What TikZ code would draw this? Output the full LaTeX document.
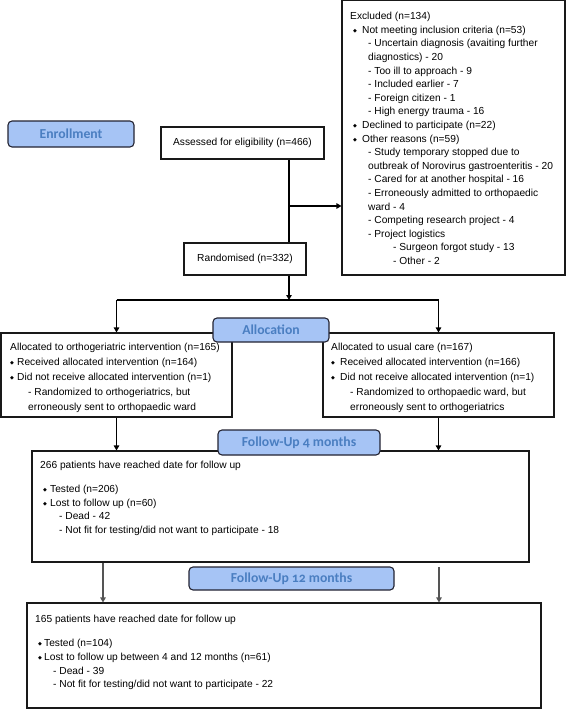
\documentclass[tikz,border=0pt]{standalone}
\usepackage{fontspec}
\setmainfont{Liberation Sans}
\newfontfamily\labfont[Numbers=OldStyle]{Carlito}
\newfontfamily\symfont{DejaVu Sans}
\usetikzlibrary{arrows.meta}
\definecolor{labfill}{RGB}{166,196,245}
\definecolor{labtext}{RGB}{74,126,193}
\definecolor{labdraw}{RGB}{35,35,50}
\definecolor{boxdraw}{RGB}{25,25,25}
\definecolor{garrow}{RGB}{85,85,85}
\newcommand\bulglyph{\raisebox{0.8pt}{\fontsize{5}{5}\symfont ◆}}
\newcommand\bul[2]{\makebox[#2pt][l]{\hspace*{#1pt}\bulglyph}}
\begin{document}
\begin{tikzpicture}[x=1pt,y=-1pt,
  labbox/.style={draw=labdraw, line width=1.1pt, fill=labfill, rounded corners=4pt,
    font=\labfont\bfseries\fontsize{13.7}{14}\selectfont, text=labtext, inner sep=0pt},
  flowbox/.style={draw=boxdraw, line width=1.1pt, fill=white, inner sep=0pt},
  txt/.style={font=\fontsize{10.2}{13.6}\selectfont, align=left, inner sep=0pt, anchor=west},
  arr/.style={line width=1.1pt, draw=black, -{Triangle[width=5.5pt,length=5pt]}},
  garr/.style={line width=1.1pt, draw=garrow, -{Triangle[width=5.5pt,length=5pt]}},
  conn/.style={line width=1.1pt, draw=black}]
\useasboundingbox (0,0) rectangle (567,709);

% spine coordinates
\coordinate (spine) at (289,0);
\coordinate (br) at (289,206);
\coordinate (split) at (289,300);
\coordinate (lx) at (103,0);
\coordinate (rtop) at (439,567);

% boxes
\node[flowbox, minimum width=163pt, minimum height=32pt, font=\fontsize{10.2}{13.6}\selectfont] (assess) at (242.5,143) {Assessed for eligibility (n=466)};
\node[flowbox, minimum width=223pt, minimum height=275pt] (excl) at (453.5,137.5) {};
\node[txt] (exclt) at (350,138.5) {Excluded (n=134)\\
\bul{3}{12}Not meeting inclusion criteria (n=53)\\
\hspace*{18pt}- Uncertain diagnosis (avaiting further\\
\hspace*{18pt}diagnostics) - 20\\
\hspace*{18pt}- Too ill to approach - 9\\
\hspace*{18pt}- Included earlier - 7\\
\hspace*{18pt}- Foreign citizen - 1\\
\hspace*{18pt}- High energy trauma - 16\\
\bul{3}{12}Declined to participate (n=22)\\
\bul{3}{12}Other reasons (n=59)\\
\hspace*{18pt}- Study temporary stopped due to\\
\hspace*{18pt}outbreak of Norovirus gastroenteritis - 20\\
\hspace*{18pt}- Cared for at another hospital - 16\\
\hspace*{18pt}- Erroneously admitted to orthopaedic\\
\hspace*{18pt}ward - 4\\
\hspace*{18pt}- Competing research project - 4\\
\hspace*{18pt}- Project logistics\\
\hspace*{43pt}- Surgeon forgot study - 13\\
\hspace*{43pt}- Other - 2};

\node[flowbox, minimum width=122pt, minimum height=32pt, font=\fontsize{10.2}{13.6}\selectfont] (rand) at (245,259) {Randomised (n=332)};

\node[flowbox, minimum width=231pt, minimum height=84pt] (allocL) at (116.5,375) {};
\node[txt, font=\fontsize{10.2}{15}\selectfont] (allocLt) at (10,378) {Allocated to orthogeriatric intervention (n=165)\\
\bul{0}{7}Received allocated intervention (n=164)\\
\bul{0}{7}Did not receive allocated intervention (n=1)\\
\hspace*{18pt}- Randomized to orthogeriatrics, but\\
\hspace*{18pt}erroneously sent to orthopaedic ward};

\node[flowbox, minimum width=231pt, minimum height=84pt] (allocR) at (438.5,375) {};
\node[txt, font=\fontsize{10.2}{15}\selectfont] (allocRt) at (331,378) {Allocated to usual care (n=167)\\
\bul{0}{9}Received allocated intervention (n=166)\\
\bul{0}{9}Did not receive allocated intervention (n=1)\\
\hspace*{19pt}- Randomized to orthopaedic ward, but\\
\hspace*{19pt}erroneously sent to orthogeriatrics};

\node[flowbox, minimum width=497pt, minimum height=111pt] (fu4box) at (280.5,506.5) {};
\node[txt, anchor=north west, font=\fontsize{10.2}{13.7}\selectfont] (fu4t) at (40,461) {266 patients have reached date for follow up\\[10.3pt]
\bul{3}{10}Tested (n=206)\\
\bul{3}{10}Lost to follow up (n=60)\\
\hspace*{19pt}- Dead - 42\\
\hspace*{19pt}- Not fit for testing/did not want to participate - 18};

\node[flowbox, minimum width=514pt, minimum height=105pt] (fu12box) at (284,655.5) {};
\node[txt, anchor=north west, font=\fontsize{10.2}{13.7}\selectfont] (fu12t) at (35,615) {165 patients have reached date for follow up\\[10.3pt]
\bul{3}{9}Tested (n=104)\\
\bul{3}{9}Lost to follow up between 4 and 12 months (n=61)\\
\hspace*{18pt}- Dead - 39\\
\hspace*{18pt}- Not fit for testing/did not want to participate - 22};

% connectors
\draw[conn] (assess.south -| spine) -- (rand.north -| spine);
\draw[arr] (br) -- (br -| excl.west);
\draw[arr] (rand.south -| spine) -- (split);
\draw[conn] (allocL.north |- split) -- (allocR.north |- split);
\draw[arr] (allocL.north |- split) -- (allocL.north);
\draw[arr] (allocR.north |- split) -- (allocR.north);
\draw[arr] (allocL.south) -- (allocL.south |- fu4box.north);
\draw[arr] (allocR.south) -- (allocR.south |- fu4box.north);
\draw[garr] (fu4box.south -| lx) -- (fu12box.north -| lx);
\draw[garr] (rtop) -- (rtop |- fu12box.north);

% stage labels
\node[labbox, minimum width=126pt, minimum height=26pt] (enr) at (71,134) {Enrollment};
\node[labbox, minimum width=116pt, minimum height=24pt] (alloc) at (271,330) {Allocation};
\node[labbox, minimum width=162pt, minimum height=25pt] (fu4) at (299,442.5) {Follow-Up 4 months};
\node[labbox, minimum width=205pt, minimum height=23pt] (fu12) at (291.5,578.5) {Follow-Up 12 months};
\end{tikzpicture}
\end{document}
